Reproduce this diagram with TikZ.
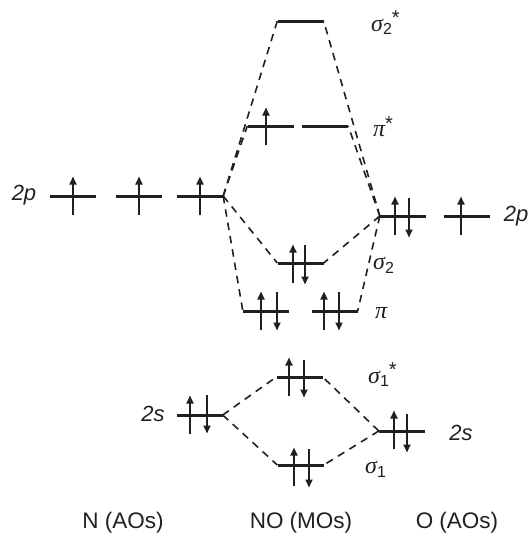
\documentclass[tikz,border=0pt]{standalone}
\usepackage{fontspec}
\setmainfont{Liberation Sans}
\newfontfamily\serifgr{Liberation Serif}
\usetikzlibrary{arrows.meta}
\definecolor{ink}{HTML}{231F20}
\tikzset{
  x=1pt,y=-1pt,
  level/.style={draw=none,fill=ink,inner sep=0pt,minimum height=3pt,minimum width=#1},
  level/.default=46pt,
  spin/.style={draw=ink,line width=1.9pt,-{Triangle[length=8pt,width=7pt]},shorten >=-0.5pt},
  corr/.style={draw=ink,line width=1.6pt,dash pattern=on 7.5pt off 6pt},
  lab/.style={text=ink,inner sep=0pt,font=\fontsize{22}{24}\selectfont},
  orb/.style={text=ink,inner sep=0pt,font=\fontsize{24}{26}\selectfont},
  axistext/.style={text=ink,inner sep=0pt,font=\fontsize{22.5}{26}\selectfont}
}
\newcommand{\sg}[1]{{\serifgr\itshape σ}\raisebox{-0.3ex}{\fontsize{16}{16}\selectfont #1}}
\newcommand{\stari}{\raisebox{0.5ex}{\fontsize{20}{20}\selectfont *}}
\begin{document}
\begin{tikzpicture}
\useasboundingbox (0,0) rectangle (530,536);
% levels
\node[level] (n1) at (73,196) {};
\node[level] (n2) at (139,196) {};
\node[level] (n3) at (200,196) {};
\node[level] (s2s) at (300.5,21) {};
\node[level] (pisL) at (270.5,126) {};
\node[level] (pisR) at (325,126) {};
\node[level] (o1) at (403,216) {};
\node[level] (o2) at (466.5,216) {};
\node[level] (s2) at (300.5,263) {};
\node[level] (piL) at (266,311) {};
\node[level] (piR) at (334.5,311) {};
\node[level] (n2s) at (199.5,415) {};
\node[level] (s1s) at (299.5,377) {};
\node[level] (o2s) at (402,431) {};
\node[level] (s1) at (300.5,465) {};
% correlation lines
\draw[corr] (n3.east) -- (s2s.west);
\draw[corr] (n3.east) -- (pisL.west);
\draw[corr] (n3.east) -- (s2.west);
\draw[corr] (n3.east) -- (piL.west);
\draw[corr] (o1.west) -- (s2s.east);
\draw[corr] (o1.west) -- (pisR.east);
\draw[corr] (o1.west) -- (s2.east);
\draw[corr] (o1.west) -- (piR.east);
\draw[corr] (n2s.east) -- (s1s.west);
\draw[corr] (n2s.east) -- (s1.west);
\draw[corr] (o2s.west) -- (s1s.east);
\draw[corr] (o2s.west) -- (s1.east);
% electrons
\draw[spin] (73,215) -- (73,177);
\draw[spin] (139,215) -- (139,177);
\draw[spin] (200,215) -- (200,177);
\draw[spin] (266,145) -- (266,108);
\draw[spin] (395,235) -- (395,197);
\draw[spin] (409,198) -- (409,237);
\draw[spin] (461,235) -- (461,197);
\draw[spin] (293,283) -- (293,245);
\draw[spin] (305,245) -- (305,284);
\draw[spin] (261,330) -- (261,292);
\draw[spin] (277,292) -- (277,330);
\draw[spin] (324,330) -- (324,292);
\draw[spin] (339,292) -- (339,330);
\draw[spin] (190,434) -- (190,396);
\draw[spin] (207,395) -- (207,433);
\draw[spin] (289,396) -- (289,358);
\draw[spin] (304,360) -- (304,397);
\draw[spin] (394,449) -- (394,411);
\draw[spin] (407,414) -- (407,452);
\draw[spin] (294,486) -- (294,448);
\draw[spin] (309,449) -- (309,487);
% labels
\node[lab] (l2pL) at (24,195) {\itshape 2p};
\node[lab] (l2pR) at (516,216) {\itshape 2p};
\node[lab] (l2sL) at (153,414) {\itshape 2s};
\node[lab] (l2sR) at (461,433) {\itshape 2s};
\node[orb,anchor=west] (ls2s) at (371,23) {\sg{2}\stari};
\node[orb,anchor=west] (lpis) at (373,127) {{\serifgr\itshape π}\stari};
\node[orb,anchor=west] (ls2) at (373,265) {\sg{2}};
\node[orb,anchor=west] (lpi) at (375,313) {{\serifgr\itshape π}};
\node[orb,anchor=west] (ls1s) at (368,375) {\sg{1}\stari};
\node[orb,anchor=west] (ls1) at (365,469) {\sg{1}};
\node[axistext] (cN) at (123,523) {N (AOs)};
\node[axistext] (cNO) at (301,523) {NO (MOs)};
\node[axistext] (cO) at (457,523) {O (AOs)};
\end{tikzpicture}
\end{document}
